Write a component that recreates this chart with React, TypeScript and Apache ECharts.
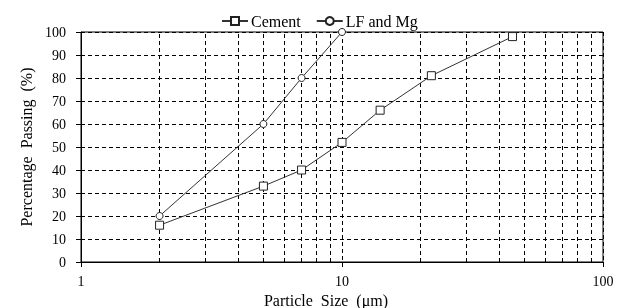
import React, { useEffect, useRef } from "react";
import * as echarts from "echarts";

const cementSizes = [2, 5, 7, 10, 14, 22, 45];
const cementPassing = [16, 33, 40, 52, 66, 81, 98];
const lfSizes = [2, 5, 7, 10];
const lfPassing = [20, 60, 80, 100];
const minorGridX = [2, 3, 4, 5, 6, 7, 8, 9, 20, 30, 40, 50, 60, 70, 80, 90];
const xTickLabels = [1, 10, 100];

const FONT = "Liberation Serif";

export default function App() {
  const ref = useRef<HTMLDivElement>(null);
  useEffect(() => {
    if (!ref.current) return;
    const chart = echarts.init(ref.current, undefined, { renderer: "svg" });
    const dash = { color: "#000", width: 1, type: [4, 3] as any };
    chart.setOption({
      animation: false,
      textStyle: { fontFamily: FONT },
      legend: {
        left: 216,
        top: 8,
        itemWidth: 26,
        itemHeight: 10,
        itemGap: 15,
        textStyle: { fontFamily: FONT, fontSize: 16, color: "#000", padding: [0, 0, 0, -2] },
        data: ["Cement", "LF and Mg"],
      },
      grid: {
        left: 81,
        right: 30,
        top: 32,
        bottom: 46,
        show: true,
        borderColor: "#000",
        borderWidth: 1,
        containLabel: false,
        outerBoundsMode: "none",
      },
      xAxis: {
        type: "log",
        logBase: 10,
        min: 1,
        max: 100,
        name: "Particle  Size  (μm)",
        nameLocation: "middle",
        nameGap: 22,
        nameTextStyle: { fontFamily: FONT, fontSize: 16, color: "#000", padding: [0, 32, 0, 0] },
        axisLine: { show: true, lineStyle: { color: "#000" } },
        axisTick: { show: true, length: 5, lineStyle: { color: "#000" } },
        axisLabel: {
          fontFamily: FONT,
          fontSize: 14,
          color: "#000",
          margin: 12,
          formatter: (v: number) => (xTickLabels.includes(Math.round(v)) ? String(Math.round(v)) : ""),
        },
        splitLine: { show: true, lineStyle: dash },
      },
      yAxis: {
        type: "value",
        min: 0,
        max: 100,
        interval: 10,
        name: "Percentage  Passing  (%)",
        nameLocation: "middle",
        nameGap: 46,
        nameTextStyle: { fontFamily: FONT, fontSize: 16, color: "#000" },
        axisLine: { show: true, lineStyle: { color: "#000" } },
        axisTick: { show: true, inside: false, length: 5, lineStyle: { color: "#000" } },
        axisLabel: { fontFamily: FONT, fontSize: 14, color: "#000", margin: 15 },
        splitLine: { show: true, lineStyle: dash },
      },
      series: [
        {
          name: "Cement",
          type: "line",
          data: cementSizes.map((s, i) => [s, cementPassing[i]]),
          symbol: "rect",
          symbolSize: 8,
          showAllSymbol: true,
          lineStyle: { color: "#333", width: 1 },
          itemStyle: { color: "#fff", borderColor: "#222", borderWidth: 1 },
          z: 5,
          markLine: {
            silent: true,
            symbol: "none",
            label: { show: false },
            lineStyle: dash,
            data: minorGridX.map((v) => ({ xAxis: v })),
            z: 1,
          },
        },
        {
          name: "LF and Mg",
          type: "line",
          data: lfSizes.map((s, i) => [s, lfPassing[i]]),
          symbol: "circle",
          symbolSize: 7,
          showAllSymbol: true,
          lineStyle: { color: "#333", width: 1 },
          itemStyle: { color: "#fff", borderColor: "#222", borderWidth: 1 },
          z: 5,
        },
      ],
    });
    return () => chart.dispose();
  }, []);
  return (
    <div
      ref={ref}
      style={{ position: "fixed", left: 0, top: 0, width: 633, height: 308 }}
    />
  );
}
